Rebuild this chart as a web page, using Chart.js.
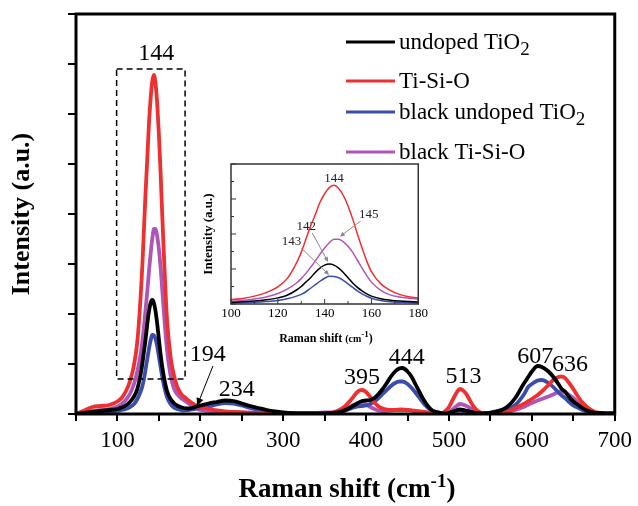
<!DOCTYPE html>
<html>
<head>
<meta charset="utf-8">
<script src="https://cdn.jsdelivr.net/npm/chart.js@4.4.0/dist/chart.umd.min.js"></script>
<style>
  body { margin: 0; background: #fff; }
  #wrap { position: relative; width: 638px; height: 506px; }
  #mainCanvas { position: absolute; left: 0; top: 0; }
  #insetCanvas { position: absolute; left: 195px; top: 158px; }
</style>
</head>
<body>
<div id="wrap">
  <canvas id="mainCanvas" width="638" height="506"></canvas>
  <canvas id="insetCanvas" width="235" height="195"></canvas>
</div>
<script>
// Raman shift (cm-1), shared by all four spectra
const shifts = [
  50, 60, 70, 80, 90, 100,
  105, 110, 115, 120, 124, 128, 130, 132, 134, 136, 138, 140, 142, 144, 146, 148, 150, 152, 154, 156, 158, 160,
  164, 168, 172, 176, 180, 185, 190, 195, 200,
  210, 220, 230, 240, 250, 260, 270, 280, 290, 300, 320, 340, 350,
  360, 370, 375, 380, 385, 390, 395, 400, 405, 410, 415, 420, 425, 430, 435, 440, 444, 450, 455, 460, 465, 470, 475, 480, 490,
  495, 500, 505, 510, 513, 520, 525, 530, 535, 540, 550, 560,
  570, 580, 590, 596, 600, 607, 612, 620, 627, 632, 636, 640, 645, 650, 656, 660, 668, 675, 680, 690, 700
];

const undopedTiO2 = [
  0, 0.02, 0.04, 0.06, 0.08, 0.1,
  0.13, 0.17, 0.24, 0.35, 0.5, 0.8, 1.0, 1.25, 1.5, 1.8, 2.05, 2.22, 2.28, 2.22, 2.05, 1.8, 1.5, 1.2, 0.95, 0.75, 0.58, 0.45,
  0.3, 0.22, 0.17, 0.14, 0.12, 0.11, 0.12, 0.15, 0.17,
  0.21, 0.24, 0.27, 0.26, 0.21, 0.16, 0.12, 0.08, 0.05, 0.03, 0.01, 0.01, 0.01,
  0.02, 0.05, 0.08, 0.12, 0.17, 0.22, 0.26, 0.27, 0.28, 0.32, 0.4, 0.5, 0.62, 0.75, 0.85, 0.91, 0.92, 0.85, 0.74, 0.58, 0.42, 0.27, 0.15, 0.07, 0.02,
  0.01, 0.02, 0.05, 0.08, 0.09, 0.07, 0.05, 0.03, 0.02, 0.01, 0.02, 0.06,
  0.14, 0.32, 0.6, 0.75, 0.85, 0.96, 0.94, 0.85, 0.72, 0.6, 0.5, 0.45, 0.34, 0.25, 0.18, 0.13, 0.06, 0.03, 0.02, 0.01, 0.01
];

const tiSiO = [
  0, 0.07, 0.14, 0.16, 0.18, 0.25,
  0.32, 0.45, 0.65, 0.98, 1.45, 2.35, 2.95, 3.7, 4.45, 5.1, 5.8, 6.3, 6.65, 6.78, 6.6, 6.2, 5.6, 4.85, 4.0, 3.2, 2.45, 1.85,
  1.15, 0.78, 0.55, 0.42, 0.35, 0.28, 0.22, 0.17, 0.14,
  0.1, 0.07, 0.05, 0.04, 0.03, 0.02, 0.02, 0.01, 0.01, 0.01, 0.01, 0.01, 0.02,
  0.03, 0.1, 0.16, 0.25, 0.35, 0.45, 0.48, 0.44, 0.34, 0.23, 0.15, 0.11, 0.09, 0.08, 0.08, 0.08, 0.08, 0.08, 0.07, 0.06, 0.05, 0.04, 0.03, 0.02, 0.01,
  0.05, 0.14, 0.3, 0.45, 0.5, 0.42, 0.28, 0.14, 0.06, 0.02, 0.01, 0.02,
  0.04, 0.12, 0.2, 0.26, 0.3, 0.38, 0.45, 0.58, 0.7, 0.74, 0.75, 0.72, 0.62, 0.5, 0.34, 0.25, 0.12, 0.05, 0.03, 0.01, 0.01
];

const blackUndopedTiO2 = [
  0, 0.01, 0.02, 0.03, 0.04, 0.06,
  0.08, 0.1, 0.14, 0.2, 0.3, 0.45, 0.55, 0.7, 0.9, 1.1, 1.3, 1.47, 1.58, 1.57, 1.5, 1.35, 1.15, 0.95, 0.75, 0.58, 0.44, 0.33,
  0.2, 0.13, 0.1, 0.08, 0.07, 0.08, 0.09, 0.11, 0.13,
  0.15, 0.19, 0.22, 0.21, 0.17, 0.12, 0.08, 0.05, 0.03, 0.01, 0.01, 0.01, 0.01,
  0.02, 0.04, 0.07, 0.1, 0.13, 0.15, 0.16, 0.17, 0.2, 0.25, 0.32, 0.4, 0.48, 0.56, 0.62, 0.65, 0.65, 0.6, 0.52, 0.42, 0.31, 0.2, 0.12, 0.06, 0.02,
  0.01, 0.02, 0.04, 0.06, 0.07, 0.06, 0.04, 0.03, 0.02, 0.01, 0.03, 0.07,
  0.09, 0.18, 0.38, 0.55, 0.6, 0.67, 0.68, 0.62, 0.52, 0.43, 0.37, 0.32, 0.24, 0.17, 0.12, 0.09, 0.04, 0.02, 0.01, 0.01, 0.01
];

const blackTiSiO = [
  0, 0.03, 0.06, 0.08, 0.1, 0.15,
  0.2, 0.28, 0.4, 0.6, 0.85, 1.2, 1.45, 1.75, 2.1, 2.45, 2.85, 3.2, 3.5, 3.7, 3.7, 3.55, 3.3, 2.95, 2.5, 2.05, 1.62, 1.25,
  0.78, 0.52, 0.4, 0.33, 0.28, 0.22, 0.16, 0.11, 0.08,
  0.06, 0.05, 0.04, 0.04, 0.03, 0.03, 0.02, 0.02, 0.02, 0.02, 0.02, 0.02, 0.03,
  0.03, 0.07, 0.1, 0.14, 0.18, 0.2, 0.21, 0.19, 0.14, 0.1, 0.07, 0.06, 0.06, 0.07, 0.08, 0.09, 0.09, 0.08, 0.07, 0.05, 0.04, 0.03, 0.02, 0.01, 0.01,
  0.01, 0.04, 0.1, 0.17, 0.2, 0.17, 0.12, 0.07, 0.03, 0.01, 0.01, 0.01,
  0.04, 0.08, 0.14, 0.19, 0.22, 0.27, 0.3, 0.35, 0.4, 0.44, 0.45, 0.43, 0.38, 0.32, 0.22, 0.15, 0.07, 0.03, 0.02, 0.01, 0.01
];

const seriesNames = ['undoped TiO2', 'Ti-Si-O', 'black undoped TiO2', 'black Ti-Si-O'];
const seriesValues = [undopedTiO2, tiSiO, blackUndopedTiO2, blackTiSiO];
const seriesColors = ['#000000', '#ee3030', '#3b4cab', '#b055b8'];

const peakLabels = ['144', '194', '234', '395', '444', '513', '607', '636'];
const insetPeakLabels = ['144', '145', '142', '143'];

const FONT = "'Liberation Serif', 'Times New Roman', serif";

function makeDatasets(width) {
  return seriesNames.map((name, k) => ({
    label: name,
    data: shifts.map((x, i) => ({ x: x, y: seriesValues[k][i] })),
    borderColor: seriesColors[k],
    backgroundColor: seriesColors[k],
    borderWidth: width,
    pointRadius: 0,
    cubicInterpolationMode: 'monotone',
    fill: false
  }));
}

// draw text made of pieces (for sub/superscripts)
function drawParts(ctx, parts, x, y, align) {
  let total = 0;
  parts.forEach(p => { ctx.font = p.font; total += ctx.measureText(p.t).width; });
  let cx = align === 'center' ? x - total / 2 : x;
  ctx.textAlign = 'left';
  ctx.textBaseline = 'alphabetic';
  parts.forEach(p => {
    ctx.font = p.font;
    ctx.fillText(p.t, cx, y + (p.dy || 0));
    cx += ctx.measureText(p.t).width;
  });
}

function arrow(ctx, x1, y1, x2, y2, color, head) {
  const ang = Math.atan2(y2 - y1, x2 - x1);
  ctx.strokeStyle = color;
  ctx.fillStyle = color;
  ctx.lineWidth = 1;
  ctx.setLineDash([]);
  ctx.beginPath();
  ctx.moveTo(x1, y1);
  ctx.lineTo(x2 - Math.cos(ang) * head * 0.8, y2 - Math.sin(ang) * head * 0.8);
  ctx.stroke();
  ctx.beginPath();
  ctx.moveTo(x2, y2);
  ctx.lineTo(x2 - head * Math.cos(ang) + head * 0.45 * Math.sin(ang), y2 - head * Math.sin(ang) - head * 0.45 * Math.cos(ang));
  ctx.lineTo(x2 - head * Math.cos(ang) - head * 0.45 * Math.sin(ang), y2 - head * Math.sin(ang) + head * 0.45 * Math.cos(ang));
  ctx.closePath();
  ctx.fill();
}

// where the peak numbers sit, in axis units
const peakLabelAt = [[146.8, 7.2], [209, 1.18], [244, 0.48], [395, 0.72], [449, 1.12], [517.6, 0.74], [604, 1.14], [646, 0.98]];

const mainDecor = {
  id: 'mainDecor',
  afterDraw(chart) {
    const { ctx, chartArea: a } = chart;
    const sx = chart.scales.x, sy = chart.scales.y;
    ctx.save();
    ctx.fillStyle = '#000';

    // frame
    ctx.strokeStyle = '#000';
    ctx.lineWidth = 3;
    ctx.strokeRect(a.left, a.top, a.right - a.left, a.bottom - a.top);

    // dashed box round the 144 band
    ctx.lineWidth = 1.5;
    ctx.setLineDash([6, 4]);
    const bx1 = sx.getPixelForValue(99), bx2 = sx.getPixelForValue(181.6);
    const by1 = sy.getPixelForValue(6.9), by2 = sy.getPixelForValue(0.7);
    ctx.strokeRect(bx1, by1, bx2 - bx1, by2 - by1);
    ctx.setLineDash([]);

    // peak numbers
    ctx.font = '24px ' + FONT;
    ctx.textAlign = 'center';
    ctx.textBaseline = 'middle';
    peakLabels.forEach((t, i) => {
      ctx.fillText(t, sx.getPixelForValue(peakLabelAt[i][0]), sy.getPixelForValue(peakLabelAt[i][1]));
    });

    // arrow to the 194 band
    arrow(ctx, sx.getPixelForValue(215.2), sy.getPixelForValue(0.96), sx.getPixelForValue(196), sy.getPixelForValue(0.16), '#000', 8);

    // legend
    const rows = [42, 81, 112, 152];
    seriesNames.forEach((name, k) => {
      ctx.strokeStyle = seriesColors[k];
      ctx.lineWidth = 3;
      ctx.beginPath();
      ctx.moveTo(346, rows[k]);
      ctx.lineTo(395, rows[k]);
      ctx.stroke();
      ctx.fillStyle = '#000';
      const parts = name.endsWith('O2')
        ? [{ t: name.slice(0, -1), font: '23px ' + FONT }, { t: '2', font: '19px ' + FONT, dy: 6 }]
        : [{ t: name, font: '23px ' + FONT }];
      drawParts(ctx, parts, 399, rows[k] + 7, 'left');
    });

    // axis titles
    ctx.fillStyle = '#000';
    drawParts(ctx, [
      { t: 'Raman shift (cm', font: 'bold 27px ' + FONT },
      { t: '-1', font: 'bold 19px ' + FONT, dy: -10 },
      { t: ')', font: 'bold 27px ' + FONT }
    ], 347, 497, 'center');

    ctx.translate(22, 214);
    ctx.rotate(-Math.PI / 2);
    ctx.font = 'bold 26px ' + FONT;
    ctx.textAlign = 'center';
    ctx.textBaseline = 'middle';
    ctx.fillText('Intensity (a.u.)', 0, 0);
    ctx.restore();
  }
};

new Chart(document.getElementById('mainCanvas').getContext('2d'), {
  type: 'line',
  data: { datasets: makeDatasets(3.8) },
  options: {
    responsive: false,
    animation: false,
    devicePixelRatio: 1,
    layout: { padding: { top: 14, right: 21, left: 0, bottom: 0 } },
    plugins: { legend: { display: false }, tooltip: { enabled: false } },
    scales: {
      x: {
        type: 'linear', min: 50, max: 700,
        ticks: {
          stepSize: 50, autoSkip: false, maxRotation: 0, padding: 6, color: '#000',
          font: { family: FONT, size: 23 },
          callback: v => (v % 100 === 0 ? String(v) : '')
        },
        grid: { drawOnChartArea: false, color: '#000', lineWidth: 2, tickLength: 7 },
        border: { display: false },
        afterFit: s => { s.height = 92; }
      },
      y: {
        min: 0, max: 8,
        ticks: { stepSize: 1, display: false },
        grid: { drawOnChartArea: false, color: '#000', lineWidth: 2, tickLength: 8 },
        border: { display: false },
        afterFit: s => { s.width = 76; }
      }
    }
  },
  plugins: [mainDecor]
});

// inset: same spectra, zoomed on 100-180 cm-1
const insetLabelAt = [[144, 7.14], [158.8, 5.09], [132.2, 4.4], [125.8, 3.54]];
const insetArrows = [[155.4, 4.74, 146.5, 3.85], [134.7, 4.06, 141.5, 2.4], [130, 3.2, 141.9, 1.66]];

const insetDecor = {
  id: 'insetDecor',
  afterDraw(chart) {
    const { ctx, chartArea: a } = chart;
    const sx = chart.scales.x, sy = chart.scales.y;
    ctx.save();
    ctx.strokeStyle = '#333';
    ctx.lineWidth = 1.5;
    ctx.strokeRect(a.left, a.top, a.right - a.left, a.bottom - a.top);

    // inward ticks
    ctx.lineWidth = 1;
    ctx.beginPath();
    for (let v = 100; v <= 180; v += 10) {
      const px = sx.getPixelForValue(v);
      ctx.moveTo(px, a.bottom);
      ctx.lineTo(px, a.bottom - (v % 20 === 0 ? 5 : 3));
    }
    for (let v = 0; v <= 8; v += 1) {
      const py = sy.getPixelForValue(v);
      ctx.moveTo(a.left, py);
      ctx.lineTo(a.left + (v % 2 === 0 ? 5 : 3), py);
    }
    ctx.stroke();

    // arrows and peak numbers
    insetArrows.forEach(r => {
      arrow(ctx, sx.getPixelForValue(r[0]), sy.getPixelForValue(r[1]), sx.getPixelForValue(r[2]), sy.getPixelForValue(r[3]), '#888', 5);
    });
    ctx.fillStyle = '#222';
    ctx.font = '13px ' + FONT;
    ctx.textAlign = 'center';
    ctx.textBaseline = 'middle';
    insetPeakLabels.forEach((t, i) => {
      ctx.fillText(t, sx.getPixelForValue(insetLabelAt[i][0]), sy.getPixelForValue(insetLabelAt[i][1]));
    });

    // titles
    ctx.fillStyle = '#000';
    drawParts(ctx, [
      { t: 'Raman shift ', font: 'bold 12px ' + FONT },
      { t: '(cm', font: 'bold 10px ' + FONT },
      { t: '-1', font: 'bold 9px ' + FONT, dy: -5 },
      { t: ')', font: 'bold 12px ' + FONT }
    ], 131, 184, 'center');

    ctx.translate(14, (a.top + a.bottom) / 2);
    ctx.rotate(-Math.PI / 2);
    ctx.font = 'bold 13px ' + FONT;
    ctx.textAlign = 'center';
    ctx.textBaseline = 'middle';
    ctx.fillText('Intensity (a.u.)', 0, 0);
    ctx.restore();
  }
};

new Chart(document.getElementById('insetCanvas').getContext('2d'), {
  type: 'line',
  data: { datasets: makeDatasets(1.5) },
  options: {
    responsive: false,
    animation: false,
    devicePixelRatio: 1,
    layout: { padding: { top: 6, right: 10, left: 0, bottom: 0 } },
    plugins: { legend: { display: false }, tooltip: { enabled: false } },
    scales: {
      x: {
        type: 'linear', min: 100, max: 180,
        ticks: { stepSize: 20, maxRotation: 0, padding: 2, color: '#000', font: { family: FONT, size: 13 } },
        grid: { display: false, drawTicks: false },
        border: { display: false },
        afterFit: s => { s.height = 49; }
      },
      y: {
        min: 0, max: 8,
        ticks: { stepSize: 1, display: false },
        grid: { display: false, drawTicks: false },
        border: { display: false },
        afterFit: s => { s.width = 36; }
      }
    }
  },
  plugins: [insetDecor]
});
</script>
</body>
</html>
